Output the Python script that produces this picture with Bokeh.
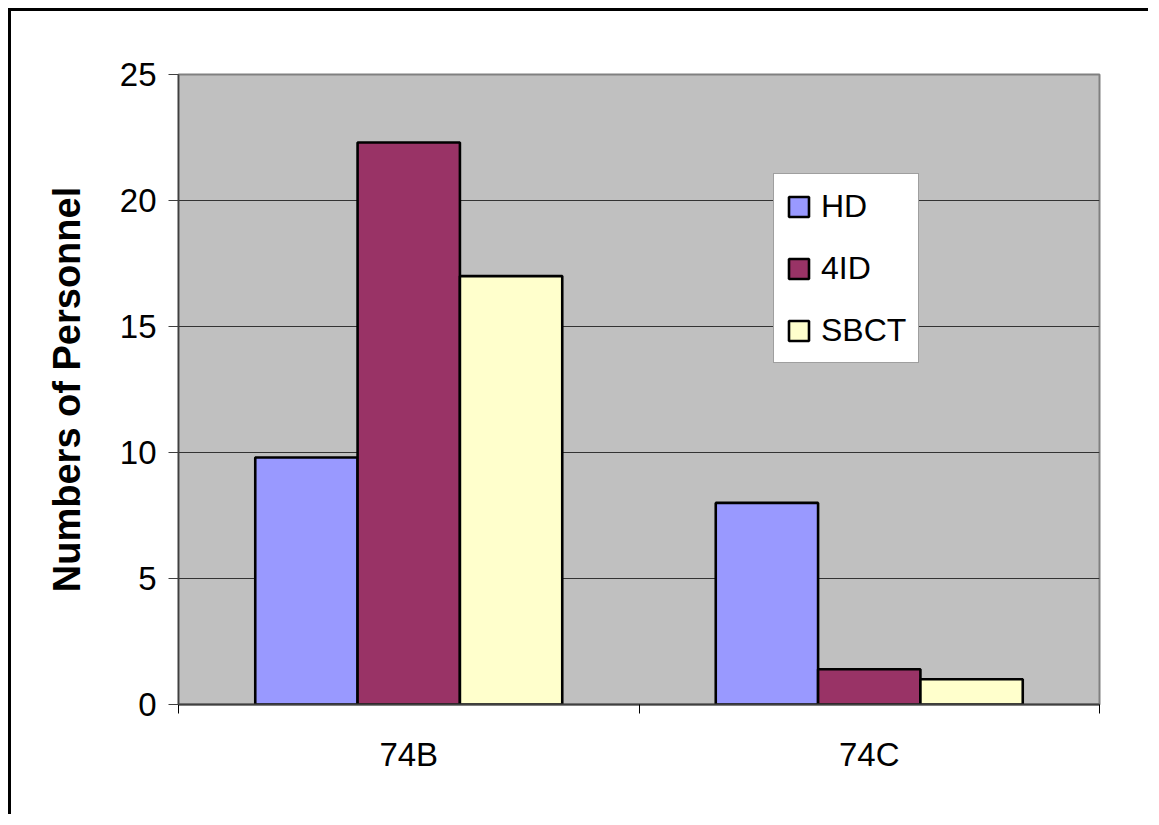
from bokeh.plotting import figure
from bokeh.models import FixedTicker, Legend, LegendItem, Range1d
from bokeh.embed import file_html
from bokeh.resources import INLINE

categories = ["74B", "74C"]
series = ["HD", "4ID", "SBCT"]
hd = [9.8, 8.0]
id4 = [22.3, 1.4]
sbct = [17.0, 1.0]
colors = ["#9999FF", "#993366", "#FFFFCC"]
y_ticks = [0, 5, 10, 15, 20, 25]

values = [hd, id4, sbct]

p = figure(width=1140, height=806, output_backend="svg", toolbar_location=None,
           x_range=Range1d(0, len(categories)), y_range=Range1d(0, 25),
           min_border_left=167, min_border_right=52, min_border_top=63, min_border_bottom=113)

p.margin = (8, 0, 0, 8)
p.styles = {"border-top": "3px solid #000", "border-left": "3px solid #000"}

p.background_fill_color = "#C0C0C0"
p.border_fill_color = "white"
p.outline_line_color = "#808080"
p.outline_line_width = 2

bar_w = 1.0 / 4.5
renderers = []
for si, (name, vals, col) in enumerate(zip(series, values, colors)):
    xs = [ci + 0.5 + (si - 1) * bar_w for ci in range(len(categories))]
    r = p.vbar(x=xs, top=vals, bottom=0, width=bar_w, fill_color=col,
               line_color="black", line_width=2.6)
    renderers.append(r)

# grid
p.xgrid.visible = False
p.ygrid.ticker = FixedTicker(ticks=y_ticks[1:])
p.ygrid.grid_line_color = "#333333"
p.ygrid.grid_line_width = 1

# x axis
xa = p.xaxis[0]
xa.ticker = FixedTicker(ticks=[i + 0.5 for i in range(len(categories))],
                        minor_ticks=list(range(len(categories) + 1)))
xa.major_label_overrides = {i + 0.5: c for i, c in enumerate(categories)}
xa.major_tick_out = 0
xa.major_tick_in = 0
xa.minor_tick_out = 9
xa.minor_tick_in = 0
xa.minor_tick_line_color = "black"
xa.axis_line_color = "#404040"
xa.axis_line_width = 2
xa.major_label_text_font = "Liberation Sans"
xa.major_label_text_font_size = "33px"
xa.major_label_text_color = "black"
xa.major_label_standoff = 22

# y axis
ya = p.yaxis[0]
ya.ticker = FixedTicker(ticks=y_ticks)
ya.minor_tick_line_color = None
ya.major_tick_out = 10
ya.major_tick_in = 0
ya.major_tick_line_color = "#404040"
ya.axis_line_color = "#404040"
ya.axis_line_width = 1.5
ya.major_label_text_font = "Liberation Sans"
ya.major_label_text_font_size = "33px"
ya.major_label_text_color = "black"
ya.major_label_standoff = 12
ya.axis_label = "Numbers of Personnel"
ya.axis_label_text_font = "Liberation Sans"
ya.axis_label_text_font_style = "bold"
ya.axis_label_text_font_size = "38px"
ya.axis_label_text_color = "black"
ya.axis_label_standoff = 29

legend = Legend(items=[LegendItem(label=s, renderers=[r]) for s, r in zip(series, renderers)],
                location=(595, 341))
legend.background_fill_color = "white"
legend.background_fill_alpha = 1
legend.border_line_color = "#404040"
legend.border_line_width = 1
legend.label_text_font = "Liberation Sans"
legend.label_text_font_size = "32px"
legend.label_text_color = "black"
legend.glyph_width = 25
legend.glyph_height = 25
legend.label_height = 40
legend.label_standoff = 10
legend.spacing = 22
legend.padding = 12
legend.margin = 0
p.add_layout(legend, "center")

open("out.html", "w").write(file_html(p, INLINE))
